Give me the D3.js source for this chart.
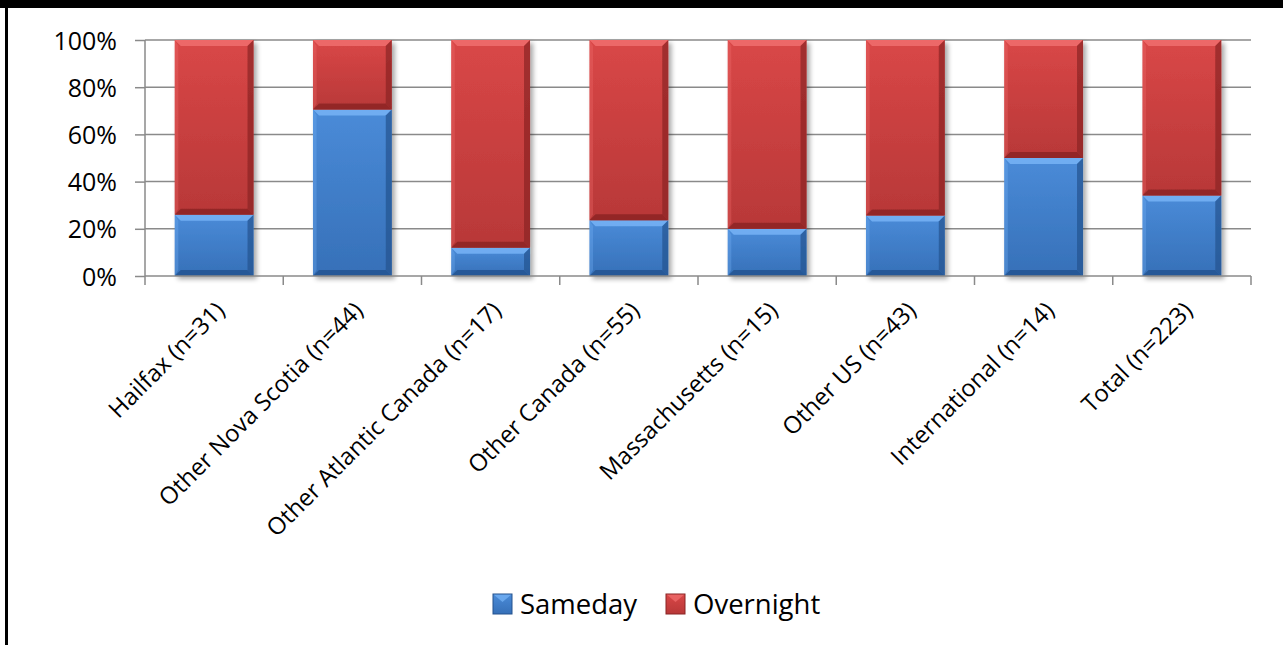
<!DOCTYPE html>
<html>
<head>
<meta charset="utf-8">
<script src="https://cdn.jsdelivr.net/npm/d3@7"></script>
<style>
  body { margin: 0; background: #fff; }
  svg { display: block; font-family: "Open Sans", sans-serif; }
</style>
</head>
<body>
<svg id="chart" width="1283" height="645"></svg>
<script>
const categories = [
  "Hailfax (n=31)", "Other Nova Scotia (n=44)", "Other Atlantic Canada (n=17)",
  "Other Canada (n=55)", "Massachusetts (n=15)", "Other US (n=43)",
  "International (n=14)", "Total (n=223)"
];
const sameday = [0.26, 0.705, 0.12, 0.236, 0.20, 0.256, 0.50, 0.341];
const overnight = [0.74, 0.295, 0.88, 0.764, 0.80, 0.744, 0.50, 0.659];
const seriesNames = ["Sameday", "Overnight"];
const yTicks = [0, 0.2, 0.4, 0.6, 0.8, 1.0];

const margin = { left: 145, right: 32, top: 40, bottom: 369 };
const W = 1283, H = 645;

const svg = d3.select("#chart");

// colours per series: face top, face bottom, top bevel, side/bottom dark
const palette = {
  Sameday:   { top: "#4a8bd8", bottom: "#3670b8", light: "#73b0f4", dark: "#24528e" },
  Overnight: { top: "#d94747", bottom: "#b83838", light: "#ee6a6a", dark: "#8a2424" }
};

const defs = svg.append("defs");
Object.keys(palette).forEach(name => {
  const g = defs.append("linearGradient")
    .attr("id", "grad-" + name)
    .attr("x1", 0).attr("y1", 0).attr("x2", 0).attr("y2", 1);
  g.append("stop").attr("offset", "0%").attr("stop-color", palette[name].top);
  g.append("stop").attr("offset", "100%").attr("stop-color", palette[name].bottom);
});
const shadow = defs.append("filter").attr("id", "shadow")
  .attr("x", "-10%").attr("y", "-10%").attr("width", "130%").attr("height", "130%");
shadow.append("feGaussianBlur").attr("in", "SourceAlpha").attr("stdDeviation", 2.5);
shadow.append("feOffset").attr("dx", 3).attr("dy", 3).attr("result", "b");
shadow.append("feComponentTransfer").append("feFuncA").attr("type", "linear").attr("slope", 0.35);
const merge = shadow.append("feMerge");
merge.append("feMergeNode");
merge.append("feMergeNode").attr("in", "SourceGraphic");

// frame (black edges)
svg.append("rect").attr("x", 0).attr("y", 0).attr("width", W).attr("height", 8).attr("fill", "#000");
svg.append("rect").attr("x", 5).attr("y", 0).attr("width", 3).attr("height", H).attr("fill", "#000");

const x = d3.scaleBand()
  .domain(categories)
  .range([margin.left, W - margin.right])
  .paddingInner(0.43)
  .paddingOuter(0.215);

const y = d3.scaleLinear()
  .domain([0, 1])
  .range([H - margin.bottom, margin.top]);

const gridColor = "#8a8a8a";

// gridlines
svg.append("g")
  .selectAll("line")
  .data(yTicks.filter(d => d > 0))
  .join("line")
  .attr("x1", margin.left).attr("x2", W - margin.right)
  .attr("y1", d => y(d)).attr("y2", d => y(d))
  .attr("stroke", gridColor).attr("stroke-width", 1.5);

// y axis
const yAxis = svg.append("g")
  .attr("transform", `translate(${margin.left},0)`)
  .call(d3.axisLeft(y).tickValues(yTicks).tickFormat(d3.format(".0%")).tickSize(10).tickPadding(18));
yAxis.selectAll("path, line").attr("stroke", gridColor).attr("stroke-width", 1.5);
yAxis.select(".domain").attr("d", `M0,${y(0)}V${y(1)}`);
yAxis.selectAll("text").attr("font-size", 25).attr("fill", "#000")
  .attr("font-family", "Open Sans").attr("dy", "0.36em");

// bars
const stacked = categories.map((c, i) => ({
  cat: c,
  segs: [
    { name: "Sameday", y0: 0, y1: sameday[i] },
    { name: "Overnight", y0: sameday[i], y1: sameday[i] + overnight[i] }
  ]
}));

const bw = x.bandwidth();
const bev = 6;

const barG = svg.append("g");
stacked.forEach(d => {
  const g = barG.append("g").attr("filter", "url(#shadow)");
  d.segs.forEach(s => {
    const x0 = x(d.cat), x1 = x0 + bw;
    const top = y(s.y1), bot = y(s.y0);
    const p = palette[s.name];
    g.append("rect")
      .attr("x", x0).attr("y", top).attr("width", bw).attr("height", bot - top)
      .attr("fill", `url(#grad-${s.name})`);
    // top bevel
    g.append("path")
      .attr("d", `M${x0},${top}H${x1}L${x1 - bev},${top + bev}H${x0 + bev}Z`)
      .attr("fill", p.light).attr("opacity", 0.9);
    // left bevel
    g.append("path")
      .attr("d", `M${x0},${top}L${x0 + bev * 0.6},${top + bev}V${bot - bev}L${x0},${bot}Z`)
      .attr("fill", p.light).attr("opacity", 0.35);
    // right bevel
    g.append("path")
      .attr("d", `M${x1},${top}L${x1 - bev},${top + bev}V${bot - bev}L${x1},${bot}Z`)
      .attr("fill", p.dark).attr("opacity", 0.7);
    // bottom bevel
    g.append("path")
      .attr("d", `M${x0},${bot}H${x1}L${x1 - bev},${bot - bev}H${x0 + bev}Z`)
      .attr("fill", p.dark).attr("opacity", 0.8);
  });
});

// x axis
const step = x.step();
const boundaries = d3.range(categories.length + 1).map(i => margin.left + i * step);
svg.append("line")
  .attr("x1", margin.left).attr("x2", W - margin.right)
  .attr("y1", y(0)).attr("y2", y(0))
  .attr("stroke", gridColor).attr("stroke-width", 1.5);
svg.append("g")
  .selectAll("line")
  .data(boundaries)
  .join("line")
  .attr("x1", d => d).attr("x2", d => d)
  .attr("y1", y(0)).attr("y2", y(0) + 9)
  .attr("stroke", gridColor).attr("stroke-width", 1.5);

svg.append("g")
  .selectAll("text")
  .data(categories)
  .join("text")
  .attr("transform", d => `translate(${x(d) + bw / 2 + 12},${y(0) + 36}) rotate(-45)`)
  .attr("text-anchor", "end")
  .attr("font-size", 23.8)
  .attr("fill", "#000")
  .text(d => d);

// legend
const legend = svg.append("g");
const legendX = [493, 666];
seriesNames.forEach((name, i) => {
  const lx = legendX[i], ly = 594;
  const p = palette[name];
  legend.append("rect").attr("x", lx).attr("y", ly).attr("width", 19).attr("height", 20)
    .attr("fill", `url(#grad-${name})`);
  legend.append("path")
    .attr("d", `M${lx},${ly}H${lx + 19}L${lx + 9.5},${ly + 8}Z`)
    .attr("fill", p.light).attr("opacity", 0.8);
  legend.append("rect").attr("x", lx).attr("y", ly).attr("width", 19).attr("height", 20)
    .attr("fill", "none").attr("stroke", p.dark).attr("stroke-width", 1);
  legend.append("text")
    .attr("x", lx + 27).attr("y", 614)
    .attr("font-size", 27.5).attr("fill", "#000")
    .text(name);
});
</script>
</body>
</html>
